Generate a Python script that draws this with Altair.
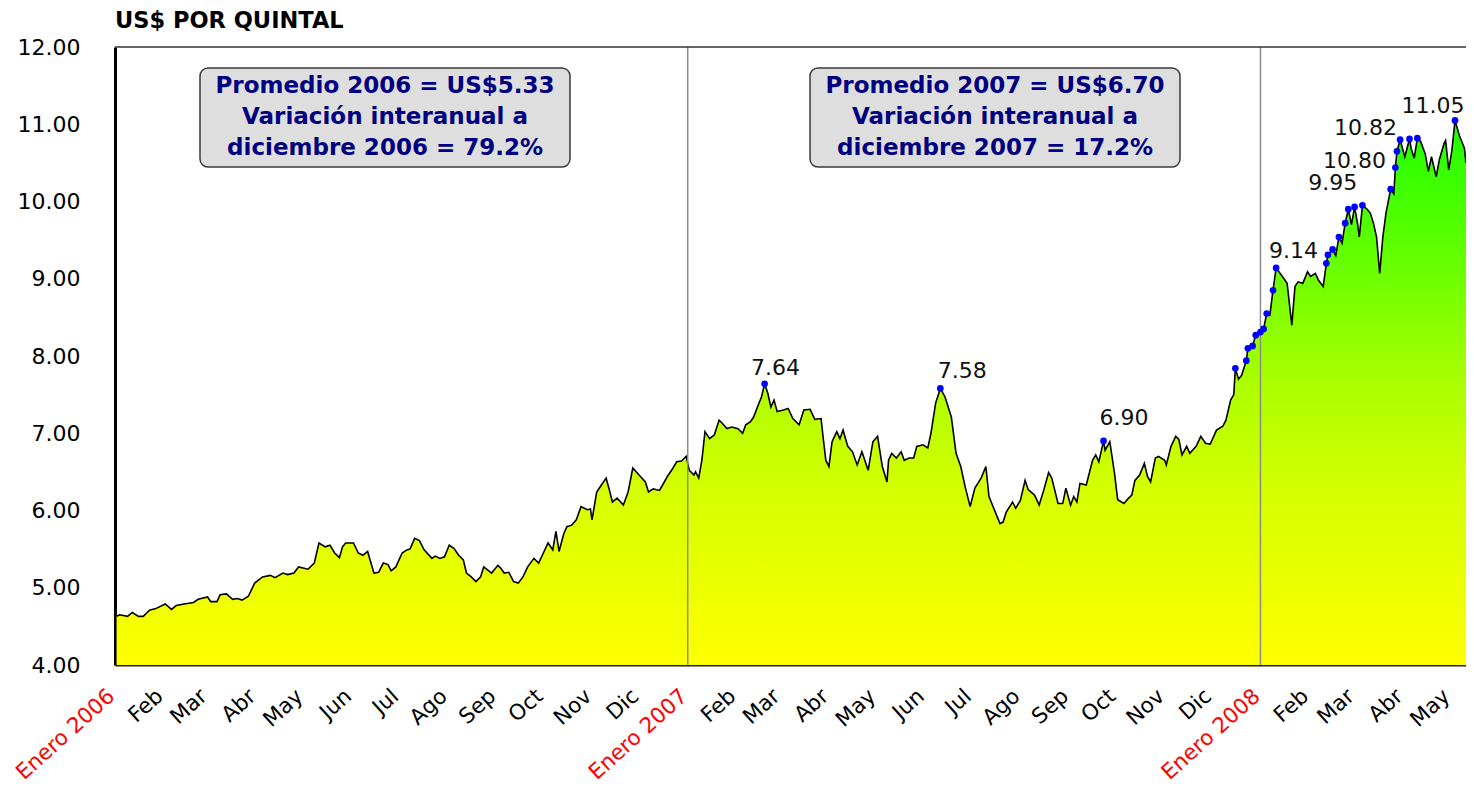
import altair as alt
import pandas as pd

# ---------------- data ----------------
dates_2006 = ["2006-01-02","2006-01-04","2006-01-09","2006-01-12","2006-01-16","2006-01-19","2006-01-23","2006-01-27",
    "2006-02-02","2006-02-06","2006-02-09","2006-02-14","2006-02-20","2006-02-23","2006-03-01","2006-03-03","2006-03-07",
    "2006-03-09","2006-03-13","2006-03-17","2006-03-20","2006-03-23","2006-03-27","2006-03-31","2006-04-05","2006-04-10",
    "2006-04-13","2006-04-18","2006-04-21","2006-04-25","2006-04-28","2006-05-04","2006-05-08","2006-05-11","2006-05-15",
    "2006-05-18","2006-05-21","2006-05-24","2006-05-26","2006-05-28","2006-06-02","2006-06-05","2006-06-08","2006-06-11",
    "2006-06-15","2006-06-18","2006-06-21","2006-06-24","2006-06-26","2006-06-29","2006-07-03","2006-07-06","2006-07-08",
    "2006-07-11","2006-07-14","2006-07-17","2006-07-22","2006-07-24","2006-07-27","2006-07-30","2006-08-02","2006-08-05",
    "2006-08-08","2006-08-11","2006-08-13","2006-08-16","2006-08-19","2006-08-22","2006-08-24","2006-08-29","2006-09-02",
    "2006-09-04","2006-09-06","2006-09-09","2006-09-12","2006-09-15","2006-09-18","2006-09-21","2006-09-25","2006-09-28",
    "2006-10-01","2006-10-04","2006-10-07","2006-10-09","2006-10-11","2006-10-14","2006-10-16","2006-10-19","2006-10-22",
    "2006-10-25","2006-10-29","2006-10-31","2006-11-01","2006-11-04","2006-11-07","2006-11-10","2006-11-12","2006-11-14",
    "2006-11-17","2006-11-21","2006-11-24","2006-11-27","2006-12-01","2006-12-05","2006-12-07","2006-12-10","2006-12-14",
    "2006-12-16","2006-12-19","2006-12-22","2006-12-25","2006-12-28","2006-12-31"]
prices_2006 = [4.63,4.65,4.63,4.68,4.63,4.63,4.71,4.73,
    4.79,4.72,4.77,4.79,4.81,4.85,4.88,4.82,4.82,
    4.91,4.92,4.85,4.86,4.84,4.89,5.06,5.14,5.16,
    5.13,5.19,5.17,5.19,5.27,5.24,5.32,5.58,5.53,
    5.55,5.45,5.39,5.53,5.58,5.58,5.45,5.42,5.47,
    5.19,5.20,5.32,5.30,5.22,5.27,5.45,5.49,5.50,
    5.64,5.61,5.49,5.38,5.41,5.38,5.40,5.55,5.51,
    5.42,5.36,5.19,5.14,5.08,5.14,5.27,5.19,5.29,
    5.25,5.19,5.20,5.08,5.06,5.14,5.27,5.38,5.32,
    5.45,5.58,5.49,5.73,5.47,5.70,5.79,5.81,5.88,
    6.05,6.01,6.02,5.88,6.24,6.33,6.42,6.27,6.11,
    6.16,6.07,6.24,6.55,6.46,6.37,6.24,6.28,6.26,
    6.33,6.44,6.53,6.63,6.64,6.70]

dates_2007 = ["2007-01-02","2007-01-05","2007-01-06","2007-01-08","2007-01-10","2007-01-12","2007-01-15","2007-01-18",
    "2007-01-21","2007-01-23","2007-01-26","2007-01-29","2007-02-02","2007-02-05","2007-02-07","2007-02-10","2007-02-12",
    "2007-02-15","2007-02-17","2007-02-19","2007-02-21","2007-02-23","2007-02-25","2007-02-27","2007-03-03","2007-03-06",
    "2007-03-09","2007-03-13","2007-03-16","2007-03-20","2007-03-23","2007-03-27","2007-03-28","2007-03-30","2007-04-01",
    "2007-04-03","2007-04-06","2007-04-08","2007-04-10","2007-04-13","2007-04-16","2007-04-19","2007-04-22","2007-04-26",
    "2007-04-29","2007-05-02","2007-05-05","2007-05-08","2007-05-09","2007-05-11","2007-05-14","2007-05-17","2007-05-19",
    "2007-05-22","2007-05-25","2007-05-27","2007-05-31","2007-06-03","2007-06-05","2007-06-08","2007-06-11","2007-06-14",
    "2007-06-18","2007-06-21","2007-06-24","2007-06-27","2007-06-30","2007-07-03","2007-07-07","2007-07-10","2007-07-12",
    "2007-07-15","2007-07-19","2007-07-21","2007-07-23","2007-07-27","2007-07-29","2007-08-01","2007-08-04","2007-08-06",
    "2007-08-10","2007-08-13","2007-08-16","2007-08-19","2007-08-21","2007-08-25","2007-08-28","2007-08-30","2007-09-02",
    "2007-09-04","2007-09-06","2007-09-08","2007-09-12","2007-09-16","2007-09-18","2007-09-20","2007-09-23","2007-09-24",
    "2007-09-27","2007-09-30","2007-10-02","2007-10-06","2007-10-09","2007-10-11","2007-10-13","2007-10-16","2007-10-19",
    "2007-10-21","2007-10-23","2007-10-26","2007-10-28","2007-11-01","2007-11-02","2007-11-05","2007-11-08","2007-11-10",
    "2007-11-12","2007-11-15","2007-11-17","2007-11-21","2007-11-24","2007-11-27","2007-11-30","2007-12-04","2007-12-08",
    "2007-12-10","2007-12-13","2007-12-15","2007-12-16","2007-12-18","2007-12-20","2007-12-23","2007-12-24","2007-12-27",
    "2007-12-29"]
prices_2007 = [6.52,6.46,6.50,6.42,6.65,7.02,6.93,6.98,
    7.17,7.13,7.06,7.08,7.06,7.00,7.11,7.15,7.21,
    7.37,7.47,7.64,7.52,7.34,7.43,7.28,7.30,7.32,
    7.19,7.11,7.30,7.31,7.18,7.19,7.00,6.65,6.57,
    6.89,7.02,6.93,7.04,6.83,6.76,6.59,6.76,6.52,
    6.89,6.96,6.57,6.37,6.65,6.74,6.68,6.76,6.65,
    6.68,6.68,6.83,6.85,6.81,7.00,7.39,7.58,7.47,
    7.21,6.74,6.57,6.29,6.05,6.29,6.42,6.57,6.18,
    6.03,5.83,5.85,5.98,6.11,6.03,6.13,6.39,6.27,
    6.20,6.07,6.27,6.49,6.42,6.09,6.09,6.29,6.07,
    6.18,6.11,6.35,6.33,6.65,6.72,6.63,6.90,6.78,
    6.89,6.48,6.14,6.09,6.16,6.20,6.39,6.46,6.61,
    6.44,6.37,6.68,6.70,6.65,6.59,6.83,6.96,6.92,
    6.72,6.83,6.74,6.83,6.96,6.87,6.86,7.04,7.09,
    7.17,7.43,7.50,7.84,7.70,7.75,7.94,8.10,8.13,
    8.27]

dates_2008 = ["2008-01-01","2008-01-03","2008-01-05","2008-01-07","2008-01-09","2008-01-11","2008-01-15","2008-01-18",
    "2008-01-21","2008-01-23","2008-01-25","2008-01-28","2008-01-31","2008-02-02","2008-02-05","2008-02-07","2008-02-10",
    "2008-02-12","2008-02-13","2008-02-16","2008-02-18","2008-02-20","2008-02-22","2008-02-24","2008-02-26","2008-02-28",
    "2008-03-01","2008-03-03","2008-03-04","2008-03-06","2008-03-09","2008-03-11","2008-03-13","2008-03-15","2008-03-17",
    "2008-03-19","2008-03-21","2008-03-24","2008-03-26","2008-03-27","2008-03-28","2008-03-30","2008-04-02","2008-04-05",
    "2008-04-06","2008-04-08","2008-04-10","2008-04-12","2008-04-15","2008-04-17","2008-04-19","2008-04-22","2008-04-24",
    "2008-04-27","2008-04-28","2008-04-30","2008-05-02","2008-05-04","2008-05-07","2008-05-10","2008-05-11"]
prices_2008 = [8.31,8.35,8.55,8.53,8.85,9.14,9.03,8.94,
    8.40,8.90,8.96,8.94,9.09,9.03,9.07,8.98,8.90,
    9.20,9.31,9.38,9.30,9.54,9.46,9.72,9.90,9.70,
    9.93,9.70,9.54,9.95,9.90,9.85,9.72,9.54,9.07,
    9.54,9.85,10.16,10.10,10.44,10.65,10.80,10.58,10.81,
    10.69,10.56,10.82,10.78,10.62,10.39,10.58,10.32,10.54,
    10.75,10.79,10.41,10.66,11.05,10.84,10.69,10.50]

# blue markers (dates of highlighted points in the series)
marker_dates = ["2007-02-19","2007-06-11","2007-09-23","2007-12-16","2007-12-23","2007-12-24","2007-12-27",
    "2007-12-29","2008-01-01","2008-01-03","2008-01-05","2008-01-09","2008-01-11","2008-02-12","2008-02-13",
    "2008-02-16","2008-02-20","2008-02-24","2008-02-26","2008-03-01","2008-03-06","2008-03-24","2008-03-27",
    "2008-03-28","2008-03-30","2008-04-05","2008-04-10","2008-05-04"]

# value labels: text, anchor date, anchor value (baseline)
label_texts = ["7.64", "7.58", "6.90", "9.14", "9.95", "10.80", "10.82", "11.05"]
label_dates = ["2007-02-26", "2007-06-25", "2007-10-06", "2008-01-22", "2008-02-16", "2008-03-01", "2008-03-08", "2008-04-20"]
label_values = [7.75, 7.71, 7.11, 9.27, 10.15, 10.44, 10.86, 11.15]

year_starts = ["2007-01-01", "2008-01-01"]
month_names = ["Enero", "Feb", "Mar", "Abr", "May", "Jun", "Jul", "Ago", "Sep", "Oct", "Nov", "Dic"]
y_ticks = [4, 5, 6, 7, 8, 9, 10, 11, 12]

box_texts = [
    ["Promedio 2006 = US$5.33", "Variación interanual a", "diciembre 2006 = 79.2%"],
    ["Promedio 2007 = US$6.70", "Variación interanual a", "diciembre 2007 = 17.2%"],
]
y_title = "US$ POR QUINTAL"

# ---------------- build tables ----------------
df = pd.DataFrame({
    "date": dates_2006 + dates_2007 + dates_2008,
    "price": prices_2006 + prices_2007 + prices_2008,
})
markers = df[df["date"].isin(marker_dates)]
labels = pd.DataFrame({"date": label_dates, "price": label_values, "txt": label_texts})
rules = pd.DataFrame({"date": year_starts})
one = pd.DataFrame({"k": [0]})

W, H = 1351, 618
FONT = "DejaVu Sans"

month_ticks = []
for yr in (2006, 2007, 2008):
    for m in range(1, 13):
        if yr == 2008 and m > 5:
            break
        month_ticks.append(alt.DateTime(year=yr, month=m, date=1, utc=True))

names_js = "[" + ",".join("'" + n + "'" for n in month_names) + "]"
label_expr = ("utcmonth(datum.value) == 0 ? 'Enero ' + utcyear(datum.value) : "
              + names_js + "[utcmonth(datum.value)]")

x_scale = alt.Scale(type="utc", domain=[alt.DateTime(year=2006, month=1, date=1, utc=True),
                                        alt.DateTime(year=2008, month=5, date=11, utc=True)])
y_scale = alt.Scale(domain=[4, 12], nice=False, zero=False)

x_enc = alt.X("date:T", scale=x_scale, title=None,
              axis=alt.Axis(values=month_ticks, labelExpr=label_expr,
                            labelColor={"expr": "utcmonth(datum.value) == 0 ? '#ff0000' : '#000000'"},
                            labelAngle=318, labelAlign="right", labelBaseline="top",
                            labelFont=FONT, labelFontSize=21.5, labelPadding=20, labelOffset=-11,
                            labelOverlap=False, labelBound=False, ticks=False, grid=False,
                            domainColor="#222222", domainWidth=2))
y_enc = alt.Y("price:Q", scale=y_scale, title=None,
              axis=alt.Axis(values=y_ticks, format=".2f", labelFont=FONT, labelFontSize=22,
                            labelColor="black", labelPadding=35, ticks=False, grid=False,
                            domainColor="black", domainWidth=3))

gradient = alt.Gradient(
    gradient="linear",
    stops=[alt.GradientStop(color="#ffff00", offset=0),
           alt.GradientStop(color="#d4ff00", offset=0.33),
           alt.GradientStop(color="#aaff00", offset=0.52),
           alt.GradientStop(color="#66ff00", offset=0.74),
           alt.GradientStop(color="#1eff00", offset=1)],
    x1=0, x2=0, y1=1, y2=0)

base = alt.Chart(df)
area = base.mark_area(color=gradient).encode(x=x_enc, y=y_enc, y2=alt.datum(4))
line = base.mark_line(color="black", strokeWidth=1.6).encode(x="date:T", y="price:Q")

year_rules = alt.Chart(rules).mark_rule(color="#8c8c8c", strokeWidth=1.5).encode(x="date:T")

top_border = alt.Chart(one).mark_rule(color="#333333", strokeWidth=1.5).encode(
    x=alt.value(0), x2=alt.value(W), y=alt.value(0))

dots = alt.Chart(markers).mark_point(filled=True, shape="circle", size=45, color="#0000ff", opacity=1).encode(
    x="date:T", y="price:Q")

value_labels = alt.Chart(labels).mark_text(font=FONT, fontSize=22, color="#111111",
                                           align="center", baseline="alphabetic").encode(
    x="date:T", y="price:Q", text="txt:N")

boxes = []
for cx, lines in zip((270, 880), box_texts):
    rect = alt.Chart(one).mark_rect(fill="#dedede", stroke="#3a3a3a", strokeWidth=1.5,
                                    cornerRadius=8).encode(
        x=alt.value(cx - 185), x2=alt.value(cx + 185), y=alt.value(21), y2=alt.value(120))
    txt = alt.Chart(one).mark_text(font=FONT, fontSize=23, fontWeight="bold", color="#000080",
                                   align="center", baseline="middle", lineHeight=31).encode(
        x=alt.value(cx), y=alt.value(39), text=alt.value(lines))
    boxes += [rect, txt]

title = alt.Chart(one).mark_text(font=FONT, fontSize=22.5, fontWeight="bold", color="black",
                                 align="left", baseline="middle").encode(
    x=alt.value(0), y=alt.value(-26), text=alt.value(y_title))

chart = alt.layer(area, line, year_rules, top_border, dots, value_labels, *boxes, title).properties(
    width=W, height=H,
    autosize=alt.AutoSizeParams(type="none"),
    padding={"left": 107, "top": 39, "right": 0, "bottom": 124},
    background="white",
).configure_view(strokeWidth=0)

chart.save("out.html", embed_options={"renderer": "svg", "actions": False})
